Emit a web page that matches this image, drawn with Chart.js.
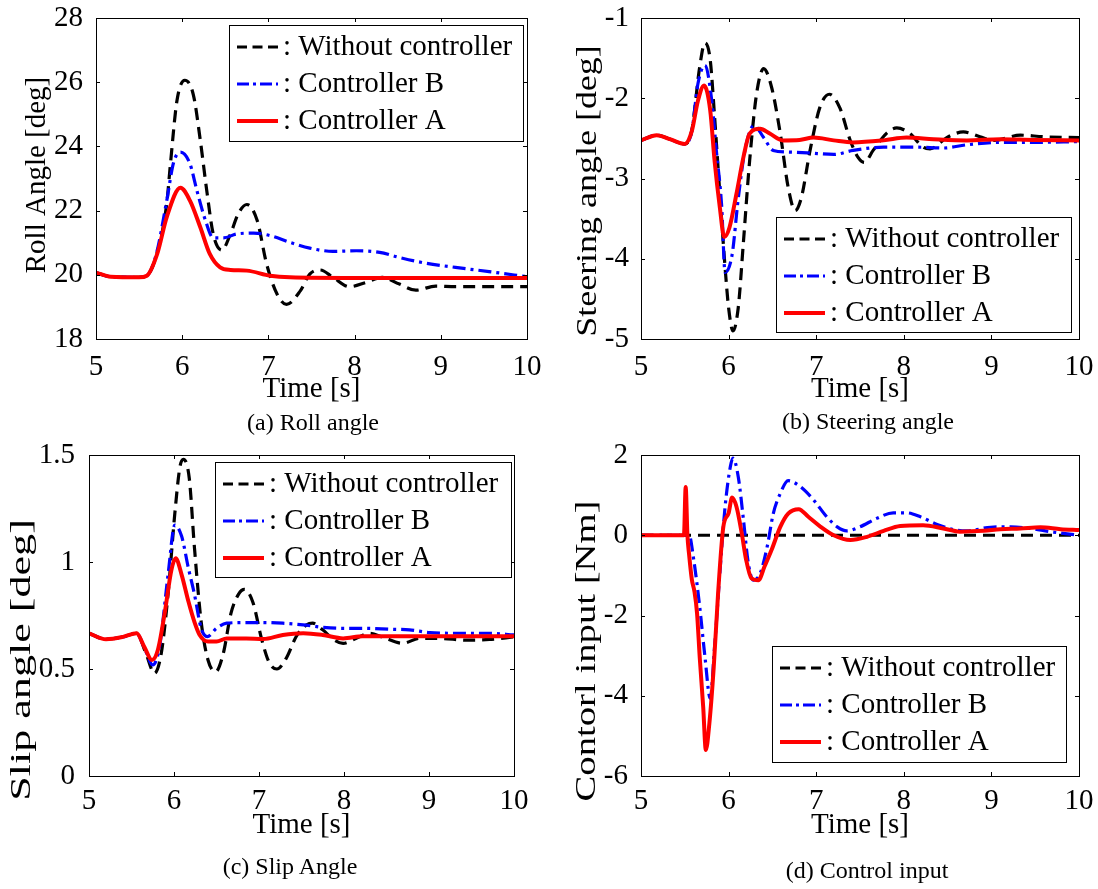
<!DOCTYPE html>
<html lang="en">
<head>
<meta charset="UTF-8" />
<title>Roll, steering, slip angle and control input</title>
<script src="https://cdn.jsdelivr.net/npm/chart.js"></script>
<style>
  body { margin: 0; background: #fff; }
  #page { position: relative; width: 1098px; height: 889px; overflow: hidden; }
  canvas { position: absolute; }
  .caption {
    position: absolute;
    font-family: "Liberation Serif", "Times New Roman", serif;
    font-size: 24px;
    line-height: 1;
    white-space: nowrap;
    color: #000;
    transform: translate(-50%, -50%);
  }
</style>
</head>
<body>
<div id="page">
  <canvas id="rollChart" width="549" height="440" style="left:0;top:0"></canvas>
  <canvas id="steerChart" width="549" height="440" style="left:549px;top:0"></canvas>
  <canvas id="slipChart" width="549" height="469" style="left:0;top:420px"></canvas>
  <canvas id="inputChart" width="549" height="469" style="left:549px;top:420px"></canvas>
  <div class="caption" style="left:313px;top:422px">(a) Roll angle</div>
  <div class="caption" style="left:868px;top:421px">(b) Steering angle</div>
  <div class="caption" style="left:290px;top:866px">(c) Slip Angle</div>
  <div class="caption" style="left:867px;top:870px">(d) Control input</div>
</div>
<script>
  // [time, value] pairs
  const seriesLabels = ["Without controller", "Controller B", "Controller A"];
  const timeTicks = [5, 6, 7, 8, 9, 10];

  const rollNone = [[5.0,20.07],[5.17,19.94],[5.5,19.92],[5.59,19.97],[5.7,20.6],[5.82,22.2],[5.86,23.35],[5.94,25.44],[6.03,26.06],[6.13,25.6],[6.21,24.19],[6.29,22.52],[6.36,21.27],[6.46,20.77],[6.56,21.27],[6.65,21.9],[6.75,22.19],[6.87,21.69],[6.98,20.33],[7.1,19.4],[7.21,19.08],[7.37,19.5],[7.48,20.02],[7.6,20.15],[7.75,19.92],[7.94,19.63],[8.13,19.76],[8.32,19.92],[8.52,19.71],[8.71,19.52],[8.94,19.65],[9.17,19.63],[10,19.63]];
  const rollB = [[5.0,20.07],[5.17,19.94],[5.5,19.92],[5.59,19.97],[5.7,20.65],[5.82,22.3],[5.9,23.5],[5.98,23.82],[6.09,23.46],[6.17,22.63],[6.27,21.69],[6.36,21.15],[6.48,21.15],[6.63,21.27],[6.83,21.3],[7.02,21.22],[7.25,21.01],[7.48,20.83],[7.75,20.73],[8.02,20.75],[8.29,20.7],[8.52,20.54],[8.79,20.38],[9.17,20.23],[9.56,20.1],[10,19.94]];
  const rollA = [[5.0,20.07],[5.17,19.94],[5.5,19.92],[5.59,19.97],[5.71,20.65],[5.82,21.79],[5.98,22.71],[6.09,22.31],[6.21,21.48],[6.32,20.65],[6.44,20.23],[6.56,20.15],[6.75,20.13],[7.02,19.97],[7.25,19.92],[8.0,19.9],[10,19.9]];

  const steerNone = [[5.0,-2.525],[5.18,-2.46],[5.33,-2.51],[5.5,-2.57],[5.58,-2.4],[5.67,-1.61],[5.73,-1.31],[5.79,-1.52],[5.84,-2.23],[5.9,-3.19],[5.96,-4.11],[6.0,-4.61],[6.05,-4.9],[6.11,-4.61],[6.17,-3.78],[6.24,-2.78],[6.32,-1.94],[6.4,-1.63],[6.49,-1.86],[6.59,-2.44],[6.68,-3.11],[6.76,-3.4],[6.83,-3.24],[6.93,-2.65],[7.04,-2.12],[7.15,-1.95],[7.27,-2.12],[7.39,-2.53],[7.48,-2.74],[7.55,-2.8],[7.65,-2.65],[7.8,-2.44],[7.92,-2.37],[8.07,-2.44],[8.22,-2.61],[8.3,-2.63],[8.49,-2.49],[8.68,-2.42],[8.87,-2.48],[9.03,-2.525],[9.33,-2.46],[9.6,-2.48],[10,-2.49]];
  const steerB = [[5.0,-2.525],[5.18,-2.46],[5.33,-2.51],[5.5,-2.57],[5.58,-2.41],[5.65,-1.82],[5.73,-1.59],[5.81,-2.05],[5.86,-2.65],[5.92,-3.33],[5.96,-4.17],[6.04,-3.95],[6.11,-3.25],[6.19,-2.63],[6.29,-2.34],[6.4,-2.49],[6.51,-2.65],[6.67,-2.67],[6.9,-2.68],[7.2,-2.7],[7.42,-2.65],[7.77,-2.61],[8.15,-2.61],[8.45,-2.62],[8.72,-2.58],[9.1,-2.55],[9.48,-2.55],[10,-2.54]];
  const steerA = [[5.0,-2.525],[5.18,-2.46],[5.33,-2.51],[5.5,-2.57],[5.58,-2.41],[5.65,-2.03],[5.72,-1.84],[5.79,-2.15],[5.84,-2.78],[5.9,-3.36],[5.95,-3.73],[6.01,-3.61],[6.09,-3.19],[6.17,-2.73],[6.24,-2.44],[6.36,-2.38],[6.47,-2.44],[6.62,-2.525],[6.81,-2.52],[6.97,-2.49],[7.2,-2.525],[7.42,-2.55],[7.77,-2.525],[8.03,-2.49],[8.34,-2.51],[8.72,-2.525],[9.1,-2.51],[9.48,-2.52],[10,-2.525]];

  const slipNone = [[5.0,0.667],[5.2,0.639],[5.4,0.65],[5.56,0.667],[5.67,0.573],[5.77,0.48],[5.85,0.573],[5.93,0.85],[6.01,1.228],[6.07,1.445],[6.11,1.48],[6.18,1.39],[6.24,1.07],[6.32,0.72],[6.4,0.542],[6.49,0.487],[6.58,0.573],[6.67,0.76],[6.76,0.85],[6.83,0.872],[6.93,0.81],[7.03,0.641],[7.12,0.53],[7.21,0.5],[7.32,0.55],[7.44,0.653],[7.56,0.706],[7.63,0.714],[7.75,0.683],[7.87,0.64],[7.99,0.62],[8.14,0.643],[8.3,0.667],[8.46,0.648],[8.69,0.62],[8.89,0.643],[9.12,0.643],[9.44,0.635],[9.71,0.638],[10,0.65]];
  const slipB = [[5.0,0.667],[5.2,0.639],[5.4,0.65],[5.56,0.667],[5.65,0.6],[5.75,0.519],[5.83,0.604],[5.93,0.94],[6.01,1.173],[6.09,1.12],[6.17,0.97],[6.24,0.85],[6.32,0.69],[6.39,0.651],[6.5,0.69],[6.62,0.714],[6.81,0.717],[7.05,0.717],[7.28,0.714],[7.52,0.706],[7.75,0.695],[7.99,0.69],[8.26,0.69],[8.54,0.686],[8.77,0.683],[9.01,0.67],[9.32,0.667],[9.71,0.667],[10,0.659]];
  const slipA = [[5.0,0.667],[5.2,0.639],[5.4,0.65],[5.56,0.667],[5.65,0.604],[5.74,0.542],[5.81,0.589],[5.89,0.76],[5.97,0.963],[6.02,1.017],[6.09,0.94],[6.17,0.815],[6.24,0.72],[6.3,0.66],[6.4,0.628],[6.5,0.628],[6.62,0.643],[6.85,0.643],[7.05,0.64],[7.28,0.659],[7.52,0.667],[7.75,0.659],[7.99,0.643],[8.22,0.653],[10,0.653]];

  const inputNone = [[5,0],[10,0]];
  const inputB = [[5.0,0],[5.55,0],[5.6,-0.58],[5.67,-1.78],[5.73,-3.03],[5.79,-4.06],[5.84,-2.78],[5.9,-0.95],[5.96,0.71],[6.02,1.71],[6.05,1.92],[6.11,1.46],[6.17,0.38],[6.22,-0.62],[6.28,-1.12],[6.36,-0.95],[6.44,-0.29],[6.51,0.54],[6.59,1.04],[6.68,1.36],[6.82,1.21],[6.97,0.88],[7.12,0.46],[7.24,0.21],[7.35,0.11],[7.5,0.21],[7.69,0.42],[7.88,0.56],[8.03,0.56],[8.19,0.46],[8.38,0.27],[8.57,0.14],[8.72,0.11],[8.99,0.2],[9.22,0.21],[9.44,0.17],[9.67,0.09],[10,0.0]];
  const inputA = [[5.0,0],[5.49,0],[5.51,1.2],[5.53,0],[5.55,-0.5],[5.58,-1.1],[5.61,-1.4],[5.64,-1.95],[5.67,-3.03],[5.71,-4.28],[5.74,-5.35],[5.78,-4.7],[5.83,-3.3],[5.88,-1.45],[5.94,0.21],[6.0,0.55],[6.04,0.94],[6.09,0.71],[6.15,0.05],[6.2,-0.61],[6.26,-1.07],[6.34,-1.12],[6.41,-0.78],[6.49,-0.37],[6.59,0.21],[6.68,0.54],[6.8,0.65],[6.91,0.46],[7.04,0.23],[7.2,0.0],[7.39,-0.12],[7.58,-0.04],[7.77,0.11],[7.96,0.23],[8.22,0.25],[8.45,0.17],[8.64,0.09],[8.91,0.11],[9.1,0.15],[9.33,0.17],[9.56,0.2],[9.79,0.15],[10,0.13]];

  const FONT = '"Liberation Serif", "Times New Roman", serif';
  Chart.defaults.font.family = FONT;
  Chart.defaults.font.size = 29;
  Chart.defaults.color = "#000";

  const legendDash = [[10, 5.5], [12, 4, 3, 4], []];

  // box, inward ticks, legend and y title in MATLAB style
  const framePlugin = {
    id: "frame",
    afterDraw(chart, args, opts) {
      const { ctx, chartArea: a } = chart;
      const xs = chart.scales.x, ys = chart.scales.y;
      ctx.save();
      ctx.strokeStyle = "#000";
      ctx.lineWidth = 1;
      ctx.setLineDash([]);
      ctx.strokeRect(a.left + 0.5, a.top + 0.5, a.right - a.left, a.bottom - a.top);
      ctx.beginPath();
      xs.ticks.forEach((t) => {
        const p = Math.round(xs.getPixelForValue(t.value)) + 0.5;
        ctx.moveTo(p, a.bottom); ctx.lineTo(p, a.bottom - 4);
        ctx.moveTo(p, a.top); ctx.lineTo(p, a.top + 4);
      });
      ys.ticks.forEach((t) => {
        const p = Math.round(ys.getPixelForValue(t.value)) + 0.5;
        ctx.moveTo(a.left, p); ctx.lineTo(a.left + 4, p);
        ctx.moveTo(a.right, p); ctx.lineTo(a.right - 4, p);
      });
      ctx.stroke();

      const L = opts.legend;
      const bx = Math.round(a.left + L.x), by = Math.round(a.top + L.y);
      ctx.fillStyle = "#fff";
      ctx.fillRect(bx, by, L.w, L.h);
      ctx.strokeRect(bx + 0.5, by + 0.5, L.w, L.h);
      ctx.font = "29px " + FONT;
      ctx.textBaseline = "middle";
      ctx.textAlign = "left";
      chart.data.datasets.forEach((ds, i) => {
        const ry = by + 22 + i * 37;
        ctx.beginPath();
        ctx.strokeStyle = ds.borderColor;
        ctx.lineWidth = ds.borderWidth;
        ctx.setLineDash(legendDash[i]);
        ctx.moveTo(bx + 8, ry);
        ctx.lineTo(bx + 49, ry);
        ctx.stroke();
        ctx.fillStyle = "#000";
        ctx.fillText(": " + ds.label, bx + 54, ry);
      });

      ctx.font = opts.titleSize + "px " + FONT;
      ctx.translate(opts.titleX, opts.titleY);
      ctx.rotate(-Math.PI / 2);
      ctx.scale(opts.titleStretch, 1);
      ctx.textAlign = "center";
      ctx.fillText(opts.title, 0, 0);
      ctx.restore();
    },
  };

  const toXY = (pairs) => pairs.map((p) => ({ x: p[0], y: p[1] }));

  function makeChart(id, series, o) {
    return new Chart(document.getElementById(id), {
      type: "line",
      data: {
        datasets: [
          { label: seriesLabels[0], data: toXY(series[0]), borderColor: "#000000", borderWidth: 3.2, borderDash: [12, 7], order: 3 },
          { label: seriesLabels[1], data: toXY(series[1]), borderColor: "#0000ff", borderWidth: 3.2, borderDash: [13, 5, 3, 5], order: 2 },
          { label: seriesLabels[2], data: toXY(series[2]), borderColor: "#ff0000", borderWidth: 4, order: 1 },
        ],
      },
      options: {
        responsive: false,
        animation: false,
        events: [],
        layout: { padding: { left: 0, top: o.top, right: o.right, bottom: o.bottom } },
        elements: {
          point: { radius: 0 },
          line: { tension: 0.4, cubicInterpolationMode: "monotone", fill: false },
        },
        plugins: {
          legend: { display: false },
          tooltip: { enabled: false },
          frame: {
            legend: o.legend, title: o.yTitle, titleX: o.titleX, titleY: o.titleY,
            titleSize: o.titleSize, titleStretch: o.titleStretch,
          },
        },
        scales: {
          x: {
            type: "linear",
            min: 5,
            max: 10,
            afterBuildTicks: (s) => { s.ticks = timeTicks.map((v) => ({ value: v })); },
            ticks: { padding: o.xPad, maxRotation: 0, autoSkip: false, callback: (v) => String(v) },
            grid: { display: false },
            border: { display: false },
            title: { display: true, text: "Time [s]", padding: 0 },
            afterFit: (s) => { s.height = o.xH; s.paddingLeft = 0; s.paddingRight = 0; },
          },
          y: {
            min: o.yMin,
            max: o.yMax,
            ticks: { stepSize: o.yStep, padding: o.yPad, callback: (v) => String(v) },
            grid: { display: false },
            border: { display: false },
            afterFit: (s) => { s.width = o.yW; s.paddingTop = 0; s.paddingBottom = 0; },
          },
        },
      },
      plugins: [framePlugin],
    });
  }

  makeChart("rollChart", [rollNone, rollB, rollA], {
    top: 18, right: 22, bottom: 33, xH: 68, yW: 96, xPad: 3, yPad: 5,
    yMin: 18, yMax: 28, yStep: 2,
    yTitle: "Roll Angle [deg]", titleX: 37, titleY: 175, titleSize: 29, titleStretch: 1,
    legend: { x: 133, y: 7, w: 294, h: 116 },
  });
  makeChart("steerChart", [steerNone, steerB, steerA], {
    top: 18, right: 19, bottom: 33, xH: 68, yW: 92, xPad: 3, yPad: 4,
    yMin: -5, yMax: -1, yStep: 1,
    yTitle: "Steering angle [deg]", titleX: 39, titleY: 191, titleSize: 29, titleStretch: 1.24,
    legend: { x: 135, y: 199, w: 295, h: 115 },
  });
  makeChart("slipChart", [slipNone, slipB, slipA], {
    top: 35, right: 35, bottom: 46, xH: 67, yW: 89, xPad: 0, yPad: 6,
    yMin: 0, yMax: 1.5, yStep: 0.5,
    yTitle: "Slip angle [deg]", titleX: 22, titleY: 240, titleSize: 30, titleStretch: 1.47,
    legend: { x: 126, y: 7, w: 296, h: 115 },
  });
  makeChart("inputChart", [inputNone, inputB, inputA], {
    top: 35, right: 19, bottom: 46, xH: 67, yW: 92, xPad: 0, yPad: 5,
    yMin: -6, yMax: 2, yStep: 2,
    yTitle: "Contorl input [Nm]", titleX: 38, titleY: 231, titleSize: 30, titleStretch: 1.29,
    legend: { x: 131, y: 191, w: 294, h: 116 },
  });
</script>
</body>
</html>
